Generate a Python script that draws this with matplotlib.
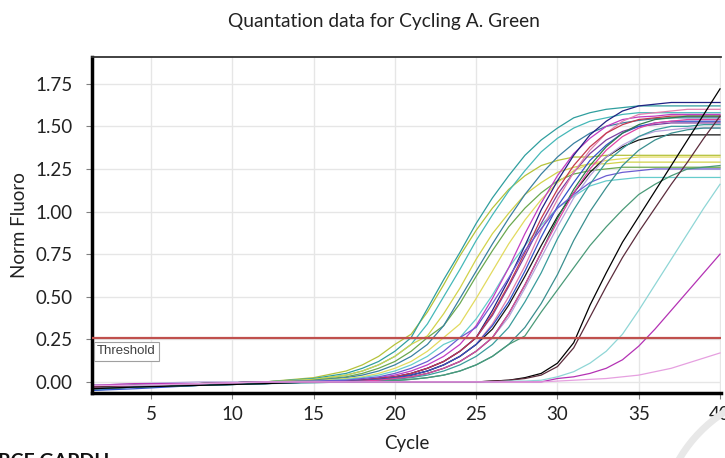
import matplotlib.pyplot as plt
from matplotlib.patches import Arc

cycles = [1.4, 4, 8, 12, 15, 17, 18, 19, 20, 21, 22, 23, 24, 25, 26, 27, 28,
          29, 30, 31, 32, 33, 34, 35, 36, 37, 38, 39, 40]

# Norm Fluoro values, one list per well (same length as cycles)
well_yellow_green = [-0.03, -0.02, -0.01, 0.00, 0.025, 0.064, 0.10, 0.15, 0.22, 0.28, 0.41, 0.57, 0.74, 0.89, 1.02,
                     1.13, 1.21, 1.27, 1.30, 1.32, 1.32, 1.33, 1.33, 1.33, 1.33, 1.33, 1.33, 1.33, 1.33]
well_teal_1 = [-0.04, -0.03, -0.01, 0.00, 0.02, 0.05, 0.08, 0.12, 0.18, 0.26, 0.43, 0.60, 0.76, 0.93, 1.08,
               1.21, 1.33, 1.42, 1.49, 1.55, 1.58, 1.60, 1.61, 1.62, 1.62, 1.62, 1.62, 1.62, 1.62]
well_cyan_1 = [-0.05, -0.03, -0.01, 0.00, 0.015, 0.04, 0.064, 0.10, 0.15, 0.22, 0.34, 0.50, 0.66, 0.83, 0.98,
               1.12, 1.24, 1.35, 1.43, 1.49, 1.53, 1.55, 1.57, 1.58, 1.58, 1.58, 1.58, 1.58, 1.58]
well_olive = [-0.03, -0.02, -0.01, 0.00, 0.015, 0.04, 0.064, 0.10, 0.15, 0.22, 0.27, 0.40, 0.55, 0.72, 0.87,
              0.99, 1.10, 1.17, 1.23, 1.26, 1.28, 1.28, 1.29, 1.29, 1.29, 1.29, 1.29, 1.29, 1.29]
well_green = [-0.04, -0.03, -0.02, -0.01, 0.01, 0.03, 0.05, 0.08, 0.12, 0.18, 0.26, 0.33, 0.46, 0.62, 0.77,
              0.91, 1.02, 1.11, 1.18, 1.22, 1.24, 1.25, 1.26, 1.26, 1.26, 1.26, 1.26, 1.26, 1.26]
well_steel = [-0.04, -0.03, -0.02, 0.00, 0.008, 0.025, 0.04, 0.064, 0.10, 0.15, 0.22, 0.33, 0.49, 0.65, 0.81,
              0.96, 1.10, 1.22, 1.32, 1.40, 1.46, 1.50, 1.52, 1.535, 1.545, 1.55, 1.55, 1.55, 1.55]
well_yellow = [-0.03, -0.02, -0.01, 0.00, 0.005, 0.02, 0.03, 0.05, 0.08, 0.12, 0.18, 0.26, 0.34, 0.49, 0.65,
               0.81, 0.95, 1.07, 1.17, 1.24, 1.28, 1.30, 1.31, 1.32, 1.32, 1.32, 1.32, 1.32, 1.32]
well_cyan_2 = [-0.04, -0.03, -0.02, -0.01, 0.003, 0.015, 0.025, 0.04, 0.064, 0.10, 0.15, 0.22, 0.26, 0.37, 0.51,
               0.67, 0.80, 0.92, 1.02, 1.09, 1.15, 1.18, 1.19, 1.20, 1.20, 1.20, 1.20, 1.20, 1.20]
well_magenta = [-0.03, -0.02, -0.01, 0.00, 0.00, 0.008, 0.015, 0.025, 0.04, 0.064, 0.10, 0.15, 0.22, 0.33, 0.49,
                0.67, 0.87, 1.05, 1.21, 1.34, 1.43, 1.50, 1.54, 1.555, 1.56, 1.57, 1.57, 1.57, 1.57]
well_purple = [-0.02, -0.02, -0.01, 0.00, 0.00, 0.005, 0.01, 0.02, 0.03, 0.05, 0.08, 0.12, 0.18, 0.26, 0.39,
               0.56, 0.74, 0.93, 1.10, 1.23, 1.34, 1.42, 1.47, 1.50, 1.51, 1.52, 1.52, 1.52, 1.52]
well_pink = [-0.03, -0.02, -0.01, 0.00, 0.00, 0.003, 0.008, 0.015, 0.025, 0.04, 0.064, 0.10, 0.15, 0.22, 0.34,
             0.50, 0.68, 0.89, 1.07, 1.23, 1.36, 1.46, 1.53, 1.57, 1.58, 1.59, 1.60, 1.60, 1.60]
well_navy = [-0.02, -0.02, -0.01, 0.00, 0.00, 0.005, 0.01, 0.02, 0.03, 0.05, 0.08, 0.12, 0.18, 0.26, 0.42,
             0.60, 0.80, 1.01, 1.18, 1.33, 1.45, 1.53, 1.59, 1.62, 1.63, 1.64, 1.64, 1.64, 1.64]
well_black_1 = [-0.03, -0.02, -0.01, 0.00, 0.00, 0.003, 0.008, 0.015, 0.025, 0.04, 0.064, 0.10, 0.15, 0.22, 0.31,
                0.45, 0.62, 0.80, 0.97, 1.11, 1.23, 1.32, 1.38, 1.42, 1.44, 1.45, 1.45, 1.45, 1.45]
well_crimson = [-0.04, -0.03, -0.01, 0.00, 0.00, 0.005, 0.01, 0.02, 0.03, 0.05, 0.08, 0.12, 0.18, 0.26, 0.40,
                0.57, 0.76, 0.96, 1.13, 1.27, 1.38, 1.46, 1.51, 1.54, 1.55, 1.56, 1.56, 1.56, 1.56]
well_lavender = [-0.02, -0.01, 0.00, 0.00, 0.00, 0.00, 0.005, 0.01, 0.02, 0.03, 0.05, 0.08, 0.12, 0.18, 0.26,
                 0.38, 0.55, 0.73, 0.91, 1.08, 1.21, 1.32, 1.39, 1.44, 1.47, 1.48, 1.49, 1.49, 1.49]
well_blue = [-0.05, -0.04, -0.02, -0.01, 0.00, 0.003, 0.008, 0.015, 0.025, 0.04, 0.064, 0.10, 0.15, 0.22,
             0.33, 0.47, 0.65, 0.85, 1.03, 1.17, 1.30, 1.39, 1.46, 1.50, 1.52, 1.53, 1.53, 1.53, 1.53]
well_dark_green = [-0.03, -0.02, -0.01, 0.00, 0.00, 0.00, 0.005, 0.01, 0.02, 0.03, 0.05, 0.08, 0.12, 0.18,
                   0.26, 0.40, 0.57, 0.76, 0.96, 1.13, 1.27, 1.38, 1.46, 1.51, 1.54, 1.55, 1.56, 1.56, 1.56]
well_violet = [-0.03, -0.02, -0.01, 0.00, 0.005, 0.01, 0.02, 0.03, 0.05, 0.08, 0.12, 0.18, 0.26, 0.32, 0.46,
               0.61, 0.77, 0.90, 1.02, 1.10, 1.17, 1.21, 1.23, 1.24, 1.25, 1.25, 1.25, 1.25, 1.25]
well_teal_2 = [-0.04, -0.03, -0.02, -0.01, 0.00, 0.00, 0.003, 0.008, 0.015, 0.025, 0.04, 0.064, 0.10, 0.15,
               0.22, 0.32, 0.47, 0.64, 0.84, 1.01, 1.16, 1.29, 1.37, 1.44, 1.48, 1.50, 1.50, 1.51, 1.51]
well_teal_3 = [-0.04, -0.03, -0.02, -0.01, -0.005, 0.00, 0.00, 0.003, 0.008, 0.015, 0.025, 0.04, 0.064, 0.10,
               0.15, 0.22, 0.32, 0.46, 0.63, 0.83, 1.00, 1.14, 1.27, 1.36, 1.42, 1.46, 1.48, 1.49, 1.49]
well_sea_green = [-0.03, -0.02, -0.01, 0.00, 0.00, 0.00, 0.00, 0.003, 0.008, 0.015, 0.025, 0.04, 0.064, 0.10, 0.15,
                  0.22, 0.27, 0.41, 0.54, 0.67, 0.80, 0.91, 1.01, 1.10, 1.16, 1.21, 1.25, 1.26, 1.27]
well_hot_pink = [-0.03, -0.02, -0.01, 0.00, 0.00, 0.00, 0.005, 0.01, 0.02, 0.03, 0.05, 0.08, 0.12, 0.18, 0.26,
                 0.40, 0.57, 0.76, 0.94, 1.11, 1.25, 1.36, 1.44, 1.49, 1.52, 1.53, 1.54, 1.54, 1.54]
well_black_2 = [-0.04, -0.03, -0.02, -0.01, 0.00, 0.00, 0.00, 0.00, 0.00, 0.00, 0.00, 0.00, 0.00, 0.00, 0.005,
                0.01, 0.025, 0.05, 0.11, 0.23, 0.45, 0.64, 0.82, 0.97, 1.12, 1.27, 1.42, 1.57, 1.72]
well_maroon = [-0.03, -0.02, -0.01, 0.00, 0.00, 0.00, 0.00, 0.00, 0.00, 0.00, 0.00, 0.00, 0.00, 0.00, 0.005,
               0.01, 0.02, 0.04, 0.09, 0.20, 0.38, 0.56, 0.73, 0.88, 1.02, 1.16, 1.29, 1.43, 1.56]
well_pale_cyan = [-0.02, -0.02, -0.01, 0.00, 0.00, 0.00, 0.00, 0.00, 0.00, 0.00, 0.00, 0.00, 0.00, 0.00, 0.00,
                  0.005, 0.005, 0.01, 0.03, 0.06, 0.11, 0.18, 0.28, 0.42, 0.57, 0.72, 0.87, 1.02, 1.16]
well_late_magenta = [-0.02, -0.01, -0.01, 0.00, 0.00, 0.00, 0.00, 0.00, 0.00, 0.00, 0.00, 0.00, 0.00, 0.00, 0.00,
                     0.00, 0.00, 0.00, 0.02, 0.03, 0.05, 0.08, 0.13, 0.21, 0.31, 0.42, 0.53, 0.64, 0.75]
well_pale_pink = [-0.02, -0.02, -0.01, 0.00, 0.00, 0.00, 0.00, 0.00, 0.00, 0.00, 0.00, 0.00, 0.00, 0.00, 0.00,
                  0.00, 0.00, 0.00, 0.005, 0.01, 0.015, 0.02, 0.03, 0.04, 0.06, 0.08, 0.11, 0.14, 0.17]

wells = [
    (well_yellow_green, "#b5c23a"), (well_teal_1, "#2f9e9e"), (well_cyan_1, "#45b8b8"),
    (well_olive, "#d2d24a"), (well_green, "#6aa84f"), (well_steel, "#3a80a0"),
    (well_yellow, "#e2da5e"), (well_cyan_2, "#66cccc"), (well_magenta, "#c23cc2"),
    (well_purple, "#7b3fa0"), (well_pink, "#e27fae"), (well_navy, "#1f2282"),
    (well_black_1, "#151515"), (well_crimson, "#c43a4e"), (well_lavender, "#b6a2dc"),
    (well_blue, "#3452c8"), (well_dark_green, "#2b7d4c"), (well_violet, "#6a5cd2"),
    (well_teal_2, "#3a9c9c"), (well_teal_3, "#3a8f8f"), (well_sea_green, "#4a9a78"),
    (well_hot_pink, "#e045a4"), (well_black_2, "#000000"), (well_maroon, "#5c2c3c"),
    (well_pale_cyan, "#8fd6d6"), (well_late_magenta, "#b432b4"), (well_pale_pink, "#e6a0e0"),
]

threshold = 0.26
x_ticks = [5, 10, 15, 20, 25, 30, 35, 40]
y_ticks = [0.00, 0.25, 0.50, 0.75, 1.00, 1.25, 1.50, 1.75]

plt.rcParams['font.family'] = ['Lato', 'DejaVu Sans']

fig = plt.figure(figsize=(7.25, 4.58), dpi=100)
ax = fig.add_axes([92 / 725, 1 - 393 / 458, 629 / 725, 336 / 458])

for vals, col in wells:
    ax.plot(cycles, vals, color=col, lw=0.9, zorder=2)

ax.axhline(threshold, color="#c0504d", lw=1.6, zorder=3)
ax.text(0.008, 0.18, "Threshold", transform=ax.get_yaxis_transform(), fontsize=9.5,
        family="Liberation Sans", color="#404040", va="center", ha="left", zorder=4,
        bbox=dict(boxstyle="square,pad=0.25", fc="white", ec="#a0a0a0", lw=0.8))

ax.set_xlim(1.37, 40.06)
ax.set_ylim(-0.065, 1.907)
ax.set_xticks(x_ticks)
ax.set_yticks(y_ticks)
ax.set_yticklabels(["%.2f" % v for v in y_ticks])
ax.grid(True, color="#e6e6e6", lw=1.0, zorder=0)
ax.set_axisbelow(True)
ax.tick_params(labelsize=13.5, length=4, color="#808080", labelcolor="#222222")
ax.tick_params(axis="y", pad=10)
ax.tick_params(axis="x", pad=5)

ax.spines['right'].set_visible(False)
ax.spines['left'].set_linewidth(2.5)
ax.spines['bottom'].set_linewidth(2.5)
ax.spines['top'].set_linewidth(1.3)
ax.spines['top'].set_color("#333333")

ax.set_xlabel("Cycle", fontsize=13.5, color="#222222", labelpad=9)
ax.set_ylabel("Norm Fluoro", fontsize=13.5, color="#222222", labelpad=5)
fig.text(0.53, 0.952, "Quantation data for Cycling A. Green", ha="center", va="center",
         fontsize=13.8, color="#222222")

# cut-off caption at the bottom edge and the faint watermark stroke
fig.text(-0.003, 0.012, "RCE GAPDH", fontsize=14, fontweight="bold", color="#111111",
         ha="left", va="top")
fig.add_artist(Arc((800 / 725, -72 / 458), 280 / 725, 280 / 458, theta1=110, theta2=165,
                   transform=fig.transFigure, color="#e8e8e8", lw=5))

fig.savefig("out.png", dpi=100)
